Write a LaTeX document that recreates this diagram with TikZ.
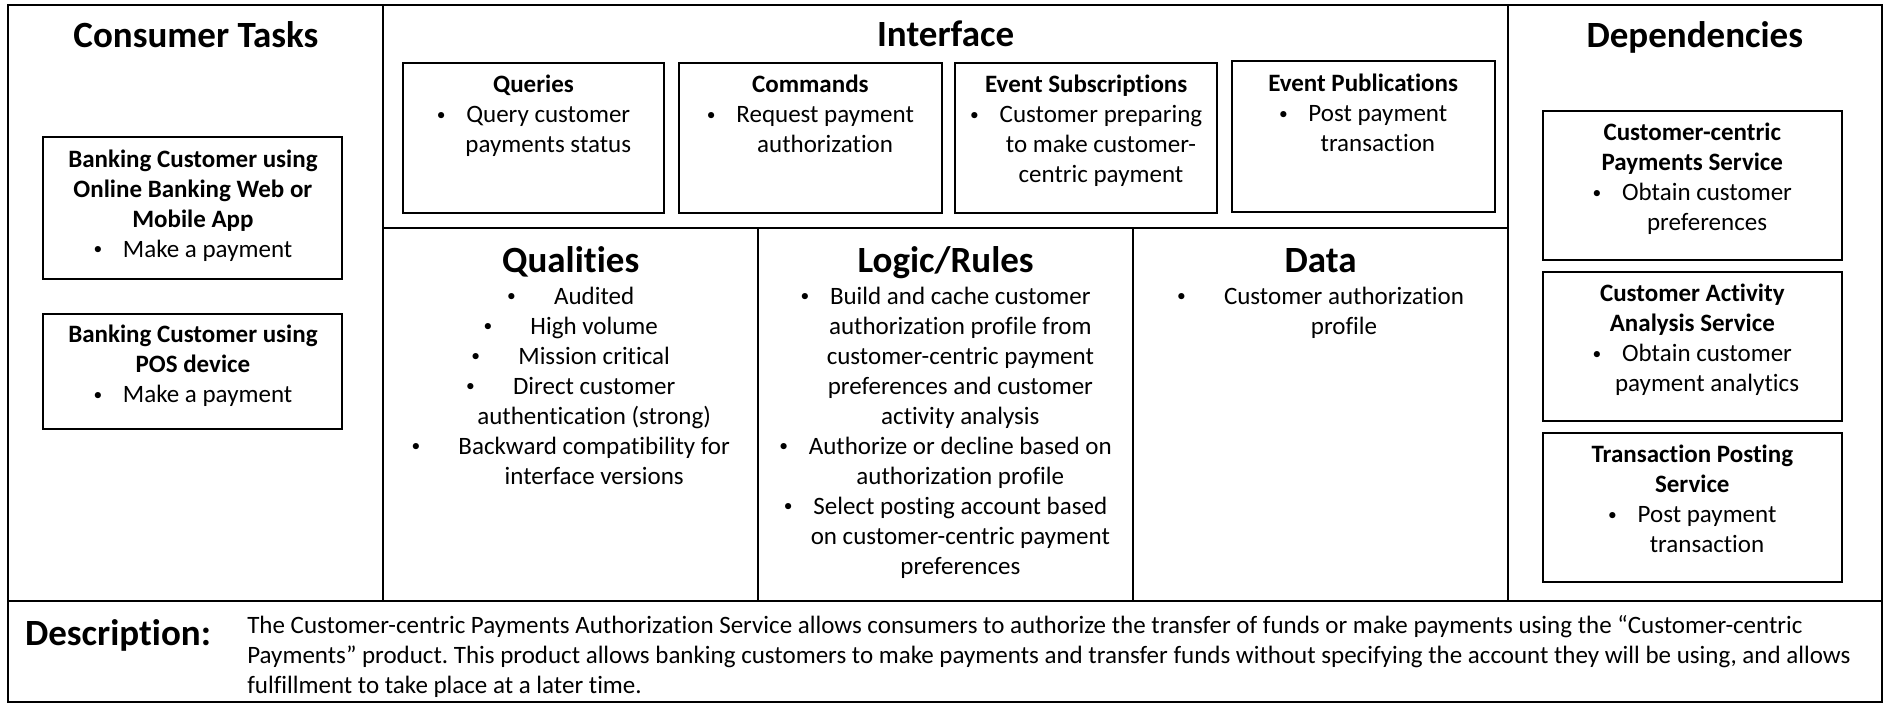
\documentclass[tikz,border=0pt]{standalone}
\usepackage{graphicx}
\usepackage{fontspec}
\setmainfont{Carlito}[Ligatures=NoCommon]
\frenchspacing
\newcommand{\bodyfont}{\fontsize{18.75}{22.5}\selectfont}
\newcommand{\headfont}{\fontsize{27.75}{33}\selectfont\bfseries}
\newcommand{\smalldot}{\raisebox{0.09em}{\scalebox{0.7}{\textbullet}}}
\newcommand{\bul}{\smalldot\hspace{0.83em}}
\newcommand{\wbul}{\smalldot\hspace{1.53em}}
\newcommand{\bulpad}{\phantom{\bul}}
\newcommand{\wbulpad}{\phantom{\wbul}}
\tikzset{every picture/.style={line width=1.5pt}}

\begin{document}
\begin{tikzpicture}[x=0.75pt,y=0.75pt,yscale=-1,xscale=1,
    txt/.style={inner sep=0pt,align=center,font=\bodyfont,anchor=north},
    head/.style={inner sep=0pt,font=\headfont,anchor=north}]
    \useasboundingbox (0,0) rectangle (1884,715);

    %Frame and column lines
    \draw (8.4,4.8) rectangle (1881.6,701.7);
    \draw (8.4,600.8) -- (1881.6,600.8);
    \draw (383.3,4.8) -- (383.3,600.8);
    \draw (1507.9,4.8) -- (1507.9,600.8);
    \draw (383.3,228.3) -- (1507.9,228.3);
    \draw (758.1,228.3) -- (758.1,600.8);
    \draw (1133,228.3) -- (1133,600.8);

    %Boxes
    \draw (43.3,137) rectangle (342.4,278.7);
    \draw (43.3,313.6) rectangle (342.4,429);
    \draw (402.5,62.5) rectangle (664.4,212.7);
    \draw (678.8,62.5) rectangle (942,212.7);
    \draw (955.2,62.5) rectangle (1217.1,212.7);
    \draw (1231.5,61.3) rectangle (1494.7,211.5);
    \draw (1542.7,110.5) rectangle (1841.9,259.5);
    \draw (1542.7,271.5) rectangle (1841.9,420.5);
    \draw (1542.7,432.5) rectangle (1841.9,581.5);

    % Titles
    \node[head] (consumer) at (195.9,15.8) {\strut Consumer Tasks};
    \node[head] (interface) at (945.6,14.6) {\strut Interface};
    \node[head] (deps) at (1694.8,15.8) {\strut Dependencies};
    \node[head] (qualities) at (570.7,240.5) {\strut Qualities};
    \node[head] (logic) at (945.6,240.5) {\strut Logic/Rules};
    \node[head] (data) at (1320.5,240.5) {\strut Data};

    % Consumer tasks
    \node[txt] (online) at (192.9,145) {\strut\textbf{Banking Customer using}\\\textbf{Online Banking Web or}\\\textbf{Mobile App}\\\bul Make a payment};
    \node[txt] (pos) at (192.9,320.5) {\strut\textbf{Banking Customer using}\\\textbf{POS device}\\\bul Make a payment};

    % Interface
    \node[txt] (queries) at (533.5,70.6) {\strut\textbf{Queries}\\\bul Query customer\\\bulpad payments status};
    \node[txt] (commands) at (810.4,70.6) {\strut\textbf{Commands}\\\bul Request payment\\\bulpad authorization};
    \node[txt] (subs) at (1086.2,70.6) {\strut\textbf{Event Subscriptions}\\\bul Customer preparing\\\bulpad to make customer-\\\bulpad centric payment};
    \node[txt] (pubs) at (1363.1,69.4) {\strut\textbf{Event Publications}\\\bul Post payment\\\bulpad transaction};

    % Qualities, logic, data
    \node[txt] (qualitylist) at (570.7,282) {\strut\wbul Audited\\\wbul High volume\\\wbul Mission critical\\\wbul Direct customer\\\wbulpad authentication (strong)\\\wbul Backward compatibility for\\\wbulpad interface versions};
    \node[txt] (logiclist) at (945.6,282) {\strut\bul Build and cache customer\\\bulpad authorization profile from\\\bulpad customer-centric payment\\\bulpad preferences and customer\\\bulpad activity analysis\\\bul Authorize or decline based on\\\bulpad authorization profile\\\bul Select posting account based\\\bulpad on customer-centric payment\\\bulpad preferences};
    \node[txt] (datalist) at (1320.5,282) {\strut\wbul Customer authorization\\\wbulpad profile};

    % Dependencies
    \node[txt] (ccps) at (1692.3,118.7) {\strut\textbf{Customer-centric}\\\textbf{Payments Service}\\\bul Obtain customer\\\bulpad preferences};
    \node[txt] (caas) at (1692.3,279.7) {\strut\textbf{Customer Activity}\\\textbf{Analysis Service}\\\bul Obtain customer\\\bulpad payment analytics};
    \node[txt] (tps) at (1692.3,440.7) {\strut\textbf{Transaction Posting}\\\textbf{Service}\\\bul Post payment\\\bulpad transaction};

    % Description
    \node[head,anchor=base west] (desclabel) at (24,645) {Description:};
    \node[txt,anchor=north west,align=left] (desctext) at (246.3,611.3) {\strut The Customer-centric Payments Authorization Service allows consumers to authorize the transfer of funds or make payments using the “Customer-centric\\Payments” product. This product allows banking customers to make payments and transfer funds without specifying the account they will be using, and allows\\fulfillment to take place at a later time.};

\end{tikzpicture}
\end{document}
